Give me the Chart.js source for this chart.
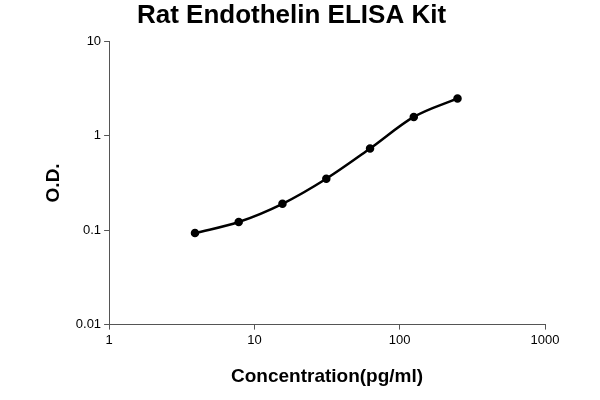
<!DOCTYPE html>
<html><head><meta charset="utf-8">
<script src="https://cdn.jsdelivr.net/npm/chart.js@4"></script>
<style>html,body{margin:0;background:#fff}#w{width:600px;height:400px}</style>
</head><body><div id="w"><canvas id="c"></canvas></div>
<script>
const concentrations = [3.9, 7.8, 15.6, 31.25, 62.5, 125, 250];
const odValues = [0.093, 0.122, 0.19, 0.35, 0.73, 1.58, 2.48];
const xTicks = [1, 10, 100, 1000];
const yTicks = [0.01, 0.1, 1, 10];
const font = "Arial, 'Liberation Sans', sans-serif";
new Chart(document.getElementById('c'), {
  type: 'line',
  data: { datasets: [{
    data: concentrations.map((x, i) => ({x, y: odValues[i]})),
    borderColor: '#000', backgroundColor: '#000', borderWidth: 2.5,
    pointRadius: 3, tension: 0.4, cubicInterpolationMode: 'monotone'
  }]},
  options: {
    responsive: true, maintainAspectRatio: false, animation: false,
    layout: { padding: { left: 38, right: 55, top: 0, bottom: 8 } },
    plugins: {
      legend: { display: false }, tooltip: { enabled: false },
      title: { display: true, text: 'Rat Endothelin ELISA Kit', color: '#000',
        font: { family: font, size: 26, weight: 'bold' }, padding: { top: 0, bottom: 10 } }
    },
    scales: {
      x: { type: 'logarithmic', min: 1, max: 1000,
        afterBuildTicks: a => { a.ticks = xTicks.map(v => ({value: v})); },
        ticks: { callback: v => String(v), color: '#000', font: { family: font, size: 13 }, maxRotation: 0 },
        grid: { display: true, drawOnChartArea: false, drawTicks: true, tickLength: 5, color: '#555' },
        border: { color: '#555', width: 1 },
        title: { display: true, text: 'Concentration(pg/ml)', color: '#000',
          font: { family: font, size: 19, weight: 'bold' }, padding: { top: 14 } } },
      y: { type: 'logarithmic', min: 0.01, max: 10,
        afterBuildTicks: a => { a.ticks = yTicks.map(v => ({value: v})); },
        ticks: { callback: v => String(v), color: '#000', font: { family: font, size: 13 } },
        grid: { display: true, drawOnChartArea: false, drawTicks: true, tickLength: 5, color: '#555' },
        border: { color: '#555', width: 1 },
        title: { display: true, text: 'O.D.', color: '#000',
          font: { family: font, size: 19, weight: 'bold' }, padding: { bottom: 8 } } }
    }
  }
});
</script></body></html>
